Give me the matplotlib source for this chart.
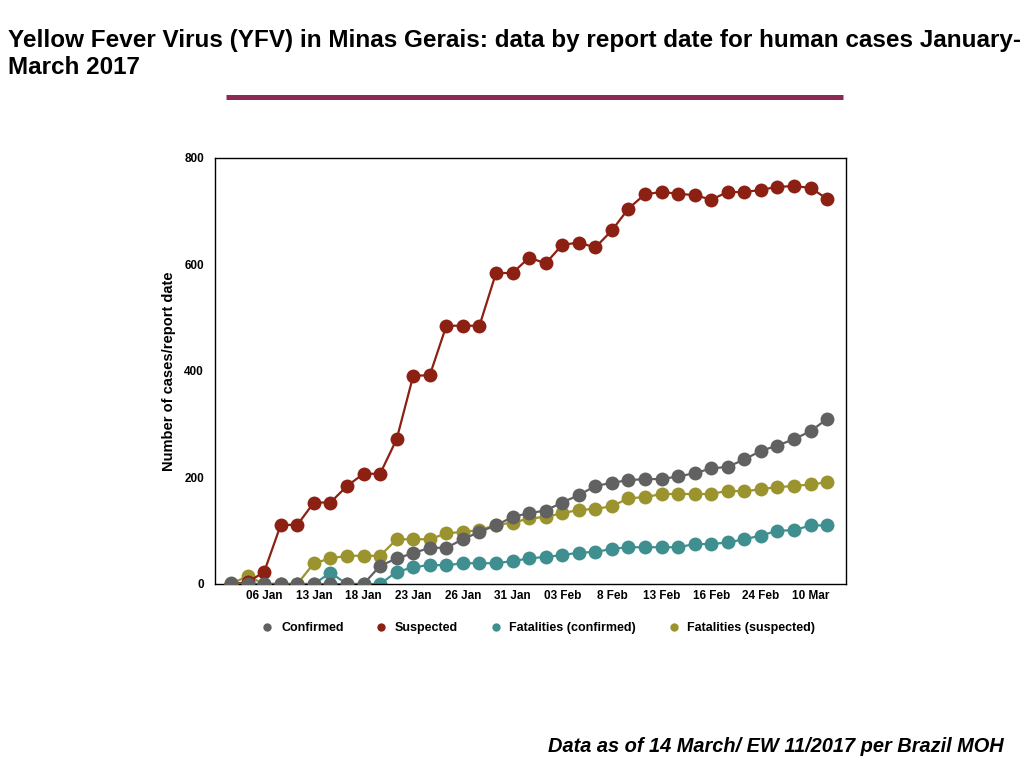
import matplotlib.pyplot as plt
from matplotlib.lines import Line2D

# report dates (only every third one is labelled on the axis)
tick_labels = ['06 Jan', '13 Jan', '18 Jan', '23 Jan', '26 Jan', '31 Jan',
               '03 Feb', '8 Feb', '13 Feb', '16 Feb', '24 Feb', '10 Mar']
n_reports = 37

confirmed = [1, 0, 0, 0, 0, 0, 0, 0, 0, 34, 48, 58, 68, 68, 84, 98, 110, 126,
             133, 138, 153, 167, 184, 190, 195, 197, 197, 202, 208, 217, 220,
             234, 250, 260, 272, 287, 310]
suspected = [0, 3, 23, 111, 111, 153, 153, 184, 207, 207, 272, 391, 392, 485,
             485, 485, 584, 584, 613, 602, 637, 641, 632, 664, 705, 732, 736,
             733, 730, 722, 736, 736, 740, 746, 747, 744, 723]
fatal_confirmed = [0, 0, 0, 0, 0, 0, 21, 0, 0, 0, 23, 31, 36, 35, 39, 39, 39,
                   43, 48, 51, 54, 59, 60, 66, 69, 69, 69, 69, 75, 75, 78, 84,
                   91, 100, 101, 110, 110]
fatal_suspected = [0, 15, 0, 0, 0, 39, 48, 53, 53, 53, 84, 84, 84, 95, 98, 101,
                   111, 115, 123, 126, 133, 139, 141, 146, 161, 163, 169, 169,
                   169, 169, 175, 174, 178, 182, 184, 187, 191]

series = [
    ('Confirmed', confirmed, '#616161'),
    ('Suspected', suspected, '#8b2013'),
    ('Fatalities (confirmed)', fatal_confirmed, '#3f8f90'),
    ('Fatalities (suspected)', fatal_suspected, '#9a932e'),
]
# stacking: teal lowest, then olive, red, grey on top
zorders = [5, 4, 2, 3]

plt.rcParams['font.family'] = ['Liberation Sans', 'DejaVu Sans']

fig = plt.figure(figsize=(10.24, 7.68), dpi=100)
ax = fig.add_axes([0.21, 0.2396, 0.6162, 0.5547])

x = list(range(n_reports))
for (name, vals, col), z in zip(series, zorders):
    ax.plot(x, vals, color=col, linewidth=1.6, marker='o', markersize=10,
            markeredgewidth=0, zorder=z)

ax.set_xlim(-0.97, 37.14)
ax.set_ylim(0, 800)
ax.set_yticks([0, 200, 400, 600, 800])
ax.set_xticks(range(2, n_reports, 3))
ax.set_xticklabels(tick_labels)
ax.tick_params(length=0, labelsize=8.5)
ax.xaxis.set_tick_params(pad=4)
ax.yaxis.set_tick_params(pad=8)
for lab in ax.get_xticklabels() + ax.get_yticklabels():
    lab.set_fontweight('bold')
ax.set_ylabel('Number of cases/report date', fontsize=10.5, fontweight='bold',
              labelpad=6)
for sp in ax.spines.values():
    sp.set_linewidth(1)

handles = [Line2D([], [], linestyle='none', marker='o', markersize=6,
                  markeredgewidth=0, color=c) for _, _, c in series]
fig.legend(handles, [s[0] for s in series], loc='center',
           bbox_to_anchor=(0.525, 0.182), ncol=4, frameon=False,
           prop={'size': 9, 'weight': 'bold'}, handletextpad=0.5,
           columnspacing=2.4, handlelength=1.2)

fig.text(0.008, 0.962,
         'Yellow Fever Virus (YFV) in Minas Gerais: data by report date for human cases January-\nMarch 2017',
         ha='left', va='top', fontsize=17.5, fontweight='bold', linespacing=1.22)
fig.add_artist(Line2D([226 / 1024, 843 / 1024], [1 - 97 / 768, 1 - 97 / 768],
                      color='#8a2a55', linewidth=3.6, solid_capstyle='butt'))
fig.text(0.98, 1 - 746 / 768, 'Data as of 14 March/ EW 11/2017 per Brazil MOH',
         ha='right', va='center', fontsize=14.4, fontweight='bold',
         fontstyle='italic')

fig.savefig('out.png', dpi=100)
